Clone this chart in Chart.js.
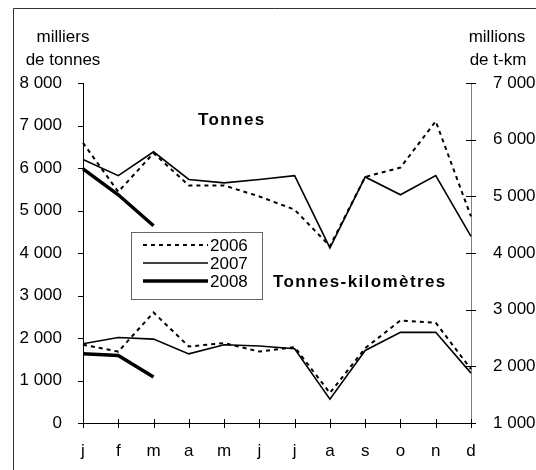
<!DOCTYPE html>
<html lang="fr">
<head>
<meta charset="utf-8">
<script src="https://cdn.jsdelivr.net/npm/chart.js@4.4.1/dist/chart.umd.min.js"></script>
<style>
    html, body { margin: 0; padding: 0; background: #fff; }
    #cadre { position: relative; width: 536px; height: 470px; }
</style>
</head>
<body>
<div id="cadre"><canvas id="graphique"></canvas></div>
<script>
// ==========================================
// 1. DONNÉES
// ==========================================
const mois = ["j", "f", "m", "a", "m", "j", "j", "a", "s", "o", "n", "d"];

// Tonnes (milliers) - axe de gauche
const tonnes2006 = [6590, 5440, 6350, 5590, 5590, 5330, 5020, 4160, 5790, 6010, 7100, 4860];
const tonnes2007 = [6200, 5820, 6380, 5730, 5650, 5730, 5820, 4120, 5790, 5370, 5820, 4390];
const tonnes2008 = [5980, 5370, 4640];

// Tonnes-kilomètres (millions) - axe de droite
const tkm2006 = [2380, 2260, 2950, 2350, 2410, 2260, 2340, 1530, 2320, 2810, 2770, 1950];
const tkm2007 = [2400, 2510, 2480, 2220, 2380, 2360, 2310, 1420, 2280, 2600, 2600, 1880];
const tkm2008 = [2220, 2190, 1810];

const annees = ["2006", "2007", "2008"];
const graduationsGauche = [0, 1000, 2000, 3000, 4000, 5000, 6000, 7000, 8000];
const graduationsDroite = [1000, 2000, 3000, 4000, 5000, 6000, 7000];

const POLICE = "'Liberation Sans', Arial, sans-serif";

// styles des trois années
const styles = {
    "2006": { borderWidth: 2, borderDash: [4, 4] },
    "2007": { borderWidth: 1.6, borderDash: [] },
    "2008": { borderWidth: 3.5, borderDash: [] }
};

function serie(label, data, axe) {
    return {
        label: label,
        data: data,
        yAxisID: axe,
        borderColor: "#000",
        backgroundColor: "#000",
        borderWidth: styles[label].borderWidth,
        borderDash: styles[label].borderDash,
        pointRadius: 0,
        tension: 0,
        fill: false
    };
}

function formatMilliers(v) {
    return String(v).replace(/\B(?=(\d{3})+(?!\d))/g, " ");
}

// ==========================================
// 2. PLUGIN : graduations, titres, légende
// ==========================================
const habillage = {
    id: "habillage",
    afterDatasetsDraw(chart) {
        const ctx = chart.ctx;
        const x = chart.scales.x;
        const yg = chart.scales.yGauche;
        const yd = chart.scales.yDroite;
        const zone = chart.chartArea;

        ctx.save();
        ctx.lineWidth = 1;

        // graduations gauche (vers l'extérieur)
        ctx.strokeStyle = "#000";
        graduationsGauche.forEach(v => {
            const py = Math.round(yg.getPixelForValue(v)) + 0.5;
            ctx.beginPath();
            ctx.moveTo(zone.left - 5, py);
            ctx.lineTo(zone.left, py);
            ctx.stroke();
        });

        // graduations de l'axe des mois (traversantes)
        mois.forEach((m, i) => {
            const px = Math.round(x.getPixelForValue(i)) + 0.5;
            ctx.beginPath();
            ctx.moveTo(px, zone.bottom - 4);
            ctx.lineTo(px, zone.bottom + 5);
            ctx.stroke();
        });

        // graduations droite (traversantes)
        graduationsDroite.forEach(v => {
            const py = Math.round(yd.getPixelForValue(v)) + 0.5;
            ctx.beginPath();
            ctx.moveTo(zone.right - 5, py);
            ctx.lineTo(zone.right + 5, py);
            ctx.stroke();
        });

        // cadre extérieur
        ctx.strokeStyle = "#333";
        ctx.beginPath();
        ctx.moveTo(13.5, 470);
        ctx.lineTo(13.5, 8.5);
        ctx.lineTo(536, 8.5);
        ctx.stroke();

        // titres des axes
        ctx.fillStyle = "#000";
        ctx.font = "17px " + POLICE;
        ctx.textAlign = "center";
        ctx.textBaseline = "alphabetic";
        ctx.fillText("milliers", 63, 42);
        ctx.fillText("de tonnes", 63, 65);
        ctx.fillText("millions", 497, 42);
        ctx.fillText("de t-km", 498, 65);

        // libellés des groupes de courbes
        ctx.font = "bold 17px " + POLICE;
        ctx.textAlign = "left";
        ctx.letterSpacing = "1.4px";
        ctx.fillText("Tonnes", 198, 125);
        ctx.fillText("Tonnes-kilomètres", 273, 287);
        ctx.letterSpacing = "0px";

        // légende
        const boite = { x: 131.5, y: 232.5, w: 131, h: 67 };
        ctx.strokeStyle = "#666";
        ctx.lineWidth = 1;
        ctx.strokeRect(boite.x, boite.y, boite.w, boite.h);
        ctx.font = "17px " + POLICE;
        ctx.textBaseline = "middle";
        annees.forEach((an, i) => {
            const ds = chart.data.datasets[i];
            const ly = 245 + i * 18;
            ctx.strokeStyle = "#000";
            ctx.lineWidth = ds.borderWidth;
            ctx.setLineDash(ds.borderDash);
            ctx.beginPath();
            ctx.moveTo(143, ly);
            ctx.lineTo(208, ly);
            ctx.stroke();
            ctx.setLineDash([]);
            ctx.fillText(an, 210, ly + 1);
        });

        ctx.restore();
    }
};

// ==========================================
// 3. GRAPHIQUE
// ==========================================
const ctx = document.getElementById("graphique").getContext("2d");

new Chart(ctx, {
    type: "line",
    data: {
        labels: mois,
        datasets: [
            serie("2006", tonnes2006, "yGauche"),
            serie("2007", tonnes2007, "yGauche"),
            serie("2008", tonnes2008, "yGauche"),
            serie("2006", tkm2006, "yDroite"),
            serie("2007", tkm2007, "yDroite"),
            serie("2008", tkm2008, "yDroite")
        ]
    },
    options: {
        responsive: true,
        maintainAspectRatio: false,
        animation: false,
        layout: { padding: { top: 83, left: 0, right: 0, bottom: 0 } },
        plugins: {
            legend: { display: false },
            tooltip: { enabled: false }
        },
        scales: {
            x: {
                type: "category",
                offset: false,
                grid: { display: false },
                border: { display: true, color: "#000", width: 1 },
                ticks: {
                    color: "#000",
                    padding: 10,
                    maxRotation: 0,
                    autoSkip: false,
                    font: { family: POLICE, size: 17 }
                },
                afterFit(scale) { scale.height = 47; }
            },
            yGauche: {
                position: "left",
                min: 0,
                max: 8000,
                grid: { display: false },
                border: { display: true, color: "#000", width: 1 },
                ticks: {
                    stepSize: 1000,
                    color: "#000",
                    padding: 13,
                    font: { family: POLICE, size: 17 },
                    callback: v => formatMilliers(v)
                },
                afterFit(scale) { scale.width = 83; }
            },
            yDroite: {
                position: "right",
                min: 1000,
                max: 7000,
                grid: { display: false },
                border: { display: true, color: "#808080", width: 1 },
                ticks: {
                    stepSize: 1000,
                    color: "#000",
                    padding: 14,
                    font: { family: POLICE, size: 17 },
                    callback: v => formatMilliers(v)
                },
                afterFit(scale) { scale.width = 65; }
            }
        }
    },
    plugins: [habillage]
});
</script>
</body>
</html>
